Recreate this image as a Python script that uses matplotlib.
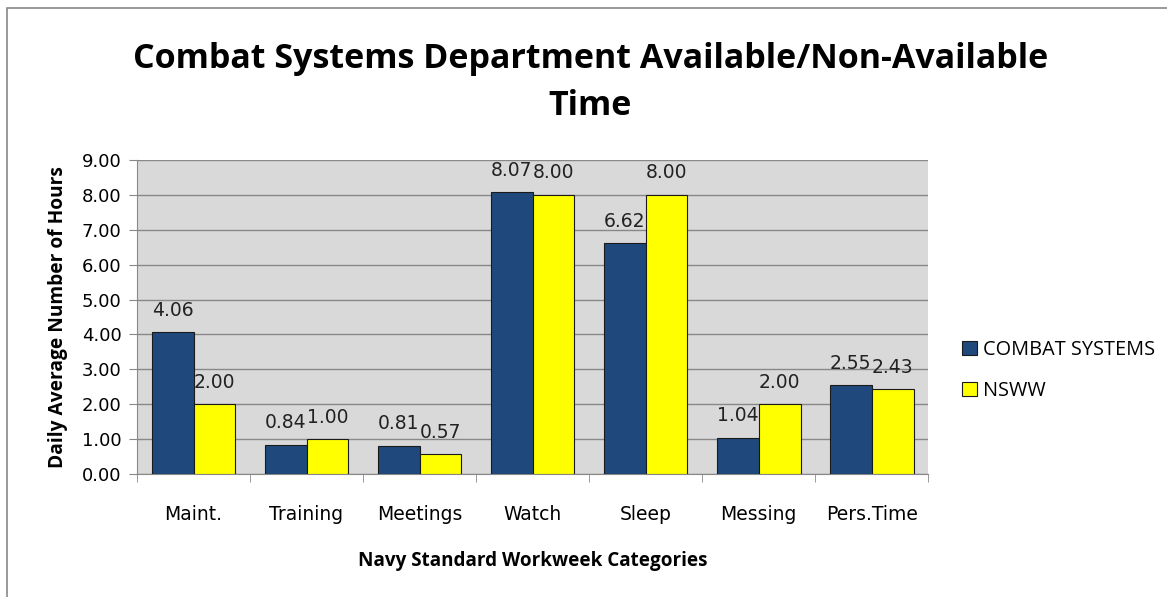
import numpy as np
import matplotlib.pyplot as plt
from matplotlib.patches import Rectangle

categories = ["Maint.", "Training", "Meetings", "Watch", "Sleep", "Messing", "Pers.Time"]
combat = [4.06, 0.84, 0.81, 8.07, 6.62, 1.04, 2.55]
nsww = [2.00, 1.00, 0.57, 8.00, 8.00, 2.00, 2.43]
series_names = ["COMBAT SYSTEMS", "NSWW"]
yticks = [0, 1, 2, 3, 4, 5, 6, 7, 8, 9]

fig = plt.figure(figsize=(11.67, 5.97), dpi=100)
fig.patches.append(Rectangle((0.006, -0.01), 1.0, 0.997, transform=fig.transFigure,
                             fill=False, edgecolor="#888888", linewidth=1.2))
ax = fig.add_axes([0.1174, 0.206, 0.678, 0.526])
ax.set_facecolor("#d9d9d9")

x = np.arange(len(categories))
w = 0.37
b1 = ax.bar(x - w / 2, combat, w, color="#1f497d", edgecolor="#1a1a1a", linewidth=0.8,
            label=series_names[0], zorder=3)
b2 = ax.bar(x + w / 2, nsww, w, color="#ffff00", edgecolor="#1a1a1a", linewidth=0.8,
            label=series_names[1], zorder=3)

for bars, vals in ((b1, combat), (b2, nsww)):
    for r, v in zip(bars, vals):
        ax.annotate(f"{v:.2f}", (r.get_x() + r.get_width() / 2, v), xytext=(0, 9),
                    textcoords="offset points", ha="center", va="bottom",
                    fontsize=13.5, color="#222222", family="DejaVu Sans", zorder=4)

ax.set_xlim(-0.5, len(categories) - 0.5)
ax.set_ylim(0, 9)
ax.set_yticks(yticks)
ax.set_yticklabels([f"{t:.2f}" for t in yticks], fontsize=13, family="DejaVu Sans")
ax.set_xticks(x)
ax.set_xticklabels(categories, fontsize=13.5, family="DejaVu Sans")
ax.set_xticks(np.arange(len(categories) + 1) - 0.5, minor=True)
ax.tick_params(axis="x", which="major", length=0, pad=22)
ax.tick_params(axis="x", which="minor", length=6, color="#888888")
ax.tick_params(axis="y", length=6, color="#888888", pad=5)
ax.grid(axis="y", color="#888888", linewidth=1.0, zorder=0)
for s in ["top", "right"]:
    ax.spines[s].set_visible(False)
ax.spines["left"].set_color("#888888")
ax.spines["bottom"].set_color("#888888")

ax.set_ylabel("Daily Average Number of Hours", fontsize=13.8, fontweight="bold",
              family="Open Sans", labelpad=10)
ax.set_xlabel("Navy Standard Workweek Categories", fontsize=13.6, fontweight="bold",
              family="Open Sans", labelpad=20)

fig.text(0.506, 0.902, "Combat Systems Department Available/Non-Available", ha="center",
         va="center", fontsize=24.5, fontweight="bold", family="Open Sans")
fig.text(0.506, 0.822, "Time", ha="center", va="center", fontsize=24.5,
         fontweight="bold", family="Open Sans")

ax.legend(loc="center left", bbox_to_anchor=(1.02, 0.33), frameon=False,
          prop={"family": "Open Sans", "size": 14.3}, handlelength=0.75, handleheight=0.75,
          handletextpad=0.3, labelspacing=1.05)

fig.savefig("out.png", dpi=100)
